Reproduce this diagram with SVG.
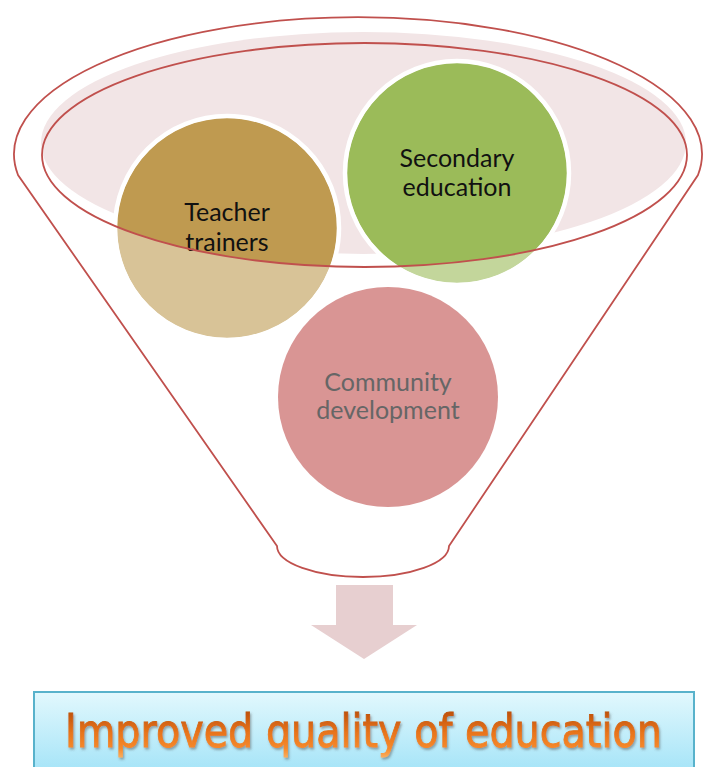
<svg xmlns="http://www.w3.org/2000/svg" width="704" height="767" viewBox="0 0 704 767">
  <defs>
    <style>
      .outline { fill: none; stroke: #C0504D; stroke-width: 1.8; }
      .ring { fill: none; stroke: #FFFFFF; stroke-width: 4.5; }
      .label { font-family: Lato, "Open Sans", "Liberation Sans", sans-serif; font-size: 25px; text-anchor: middle; }
      .dark { fill: #111111; }
      .grey { fill: #666666; }
      .result { font-family: "DejaVu Sans", "Liberation Sans", sans-serif; font-size: 47px; stroke: url(#orange); stroke-width: 0.9; }
    </style>
    <!-- rim of the funnel: circles are darker inside it -->
    <clipPath id="rim">
      <ellipse cx="364.5" cy="155" rx="322.5" ry="112"/>
    </clipPath>
    <linearGradient id="boxFill" x1="0" y1="0" x2="0" y2="1">
      <stop offset="0" stop-color="#E2F8FD"/>
      <stop offset="1" stop-color="#A8E5F8"/>
    </linearGradient>
    <linearGradient id="orange" gradientUnits="userSpaceOnUse" x1="0" y1="712" x2="0" y2="758">
      <stop offset="0" stop-color="#BF520A"/>
      <stop offset="0.45" stop-color="#E8741A"/>
      <stop offset="0.8" stop-color="#F68A2C"/>
      <stop offset="1" stop-color="#FBB060"/>
    </linearGradient>
    <filter id="shadow" x="-5%" y="-30%" width="110%" height="160%">
      <feDropShadow dx="1.5" dy="2" stdDeviation="1.1" flood-color="#555555" flood-opacity="0.5"/>
    </filter>
  </defs>

  <!-- funnel body -->
  <g id="funnel">
    <path d="M 18 175 A 344 137 0 1 1 698 175 L 449 546 A 86 31 0 0 1 277 546 Z" fill="#FFFFFF" stroke="#C0504D" stroke-width="1.8"/>
    <ellipse cx="363.5" cy="143" rx="322.5" ry="111" fill="#F2E5E6"/>
  </g>

  <g id="community">
    <circle cx="388" cy="397" r="110" fill="#D99594"/>
    <text class="label grey" x="388" y="391">Community</text>
    <text class="label grey" x="388" y="419">development</text>
  </g>

  <g id="teacher">
    <circle cx="227" cy="228" r="110" fill="#D8C397"/>
    <circle cx="227" cy="228" r="110" fill="#BF9A50" clip-path="url(#rim)"/>
    <circle class="ring" cx="227" cy="228" r="112"/>
    <text class="label dark" x="227" y="221">Teacher</text>
    <text class="label dark" x="227" y="251">trainers</text>
  </g>

  <g id="secondary">
    <circle cx="457" cy="173" r="110" fill="#C3D69B"/>
    <circle cx="457" cy="173" r="110" fill="#9BBB59" clip-path="url(#rim)"/>
    <circle class="ring" cx="457" cy="173" r="112"/>
    <text class="label dark" x="457" y="167">Secondary</text>
    <text class="label dark" x="457" y="196">education</text>
  </g>

  <!-- rim line drawn over the circles -->
  <g id="rim-line">
    <ellipse class="outline" cx="364.5" cy="155" rx="322.5" ry="112"/>
  </g>

  <g id="connectors">
    <path d="M 336 585 L 393 585 L 393 625 L 417 625 L 364 659 L 311 625 L 336 625 Z" fill="#E7CFD0"/>
  </g>

  <g id="result">
    <rect x="34" y="692" width="660" height="76" fill="url(#boxFill)" stroke="#58B2CB" stroke-width="2"/>
    <!-- narrowed horizontally so the caption spans 597px -->
    <text class="result" transform="translate(65 0) scale(0.843 1)" x="0" y="747" fill="url(#orange)" filter="url(#shadow)" textLength="708" lengthAdjust="spacingAndGlyphs">Improved quality of education</text>
  </g>
</svg>
